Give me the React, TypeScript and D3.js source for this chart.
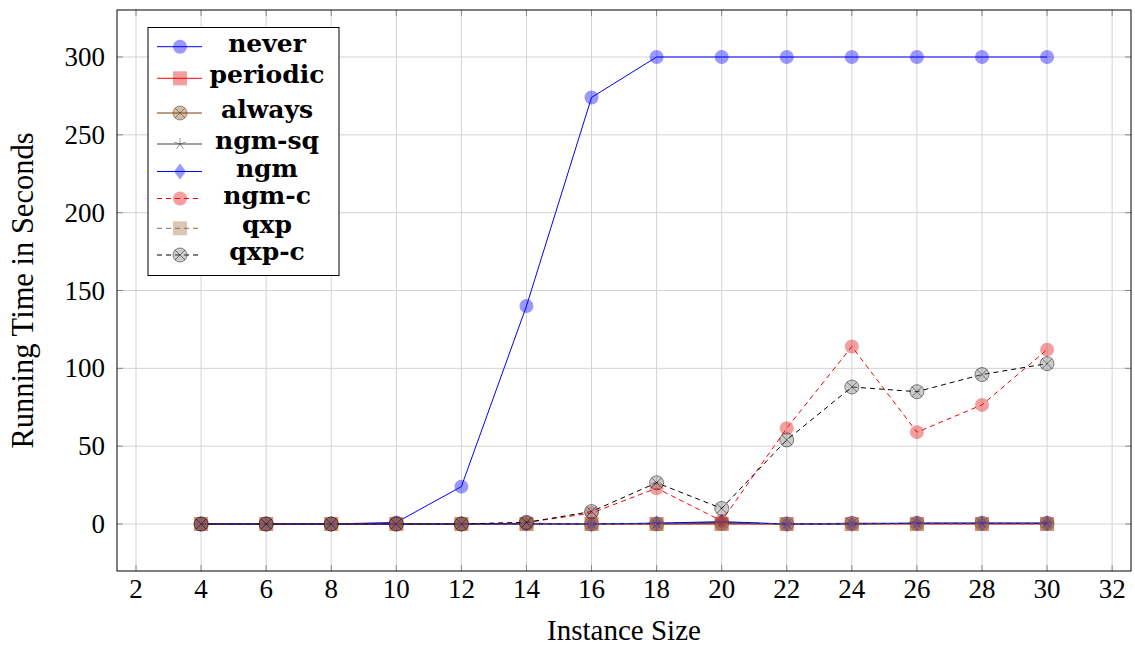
import React from "react";
import * as d3 from "d3";

const sizes = [4, 6, 8, 10, 12, 14, 16, 18, 20, 22, 24, 26, 28, 30];
const neverVals = [0, 0, 0, 1, 24, 140, 274, 300, 300, 300, 300, 300, 300, 300];
const periodicVals = [0, 0, 0, 0, 0, 0, 0, 0, 0, 0, 0, 0, 0, 0];
const alwaysVals = [0, 0, 0, 0, 0, 0.5, 0, 0, 0.5, 0, 0.5, 0.5, 0.5, 0.5];
const ngmSqVals = [0, 0, 0, 0, 0, 0, 0, 0.5, 1, 0, 0, 0.5, 0.5, 0.5];
const ngmVals = [0, 0, 0, 0, 0, 0, 0, 0.5, 1.5, 0, 0, 0.5, 0.5, 0.5];
const ngmCVals = [0, 0, 0, 0, 0, 1, 7, 23, 2, 61.5, 114, 59, 76.5, 112];
const qxpVals = [0, 0, 0, 0, 0, 0, 0, 0, 0, 0, 0, 0, 0, 0];
const qxpCVals = [0, 0, 0, 0, 0, 1, 8, 26.5, 10, 54, 88, 85, 96, 103];

const xTicks = [2, 4, 6, 8, 10, 12, 14, 16, 18, 20, 22, 24, 26, 28, 30, 32];
const yTicks = [0, 50, 100, 150, 200, 250, 300];
const xLabel = "Instance Size";
const yLabel = "Running Time in Seconds";

type Marker = "circle" | "square" | "otimes" | "star" | "diamond";
interface Series {
  name: string;
  values: number[];
  line: string;
  dash?: string;
  marker: Marker;
  fill: string;
  mstroke: string;
}

const series: Series[] = [
  { name: "never", values: neverVals, line: "#0000ff", marker: "circle", fill: "#0000ff", mstroke: "none" },
  { name: "periodic", values: periodicVals, line: "#ff0000", marker: "square", fill: "#e01010", mstroke: "none" },
  { name: "always", values: alwaysVals, line: "#7a3d00", marker: "otimes", fill: "#8a5a2a", mstroke: "#4a2a0a" },
  { name: "ngm-sq", values: ngmSqVals, line: "#404040", marker: "star", fill: "#404040", mstroke: "#404040" },
  { name: "ngm", values: ngmVals, line: "#0000ff", marker: "diamond", fill: "#0000ff", mstroke: "none" },
  { name: "ngm-c", values: ngmCVals, line: "#ff0000", dash: "5,4", marker: "circle", fill: "#e01010", mstroke: "none" },
  { name: "qxp", values: qxpVals, line: "#8c6a4a", dash: "5,4", marker: "square", fill: "#a07040", mstroke: "none" },
  { name: "qxp-c", values: qxpCVals, line: "#000000", dash: "5,4", marker: "otimes", fill: "#808080", mstroke: "#000000" },
];

const W = 1135, H = 647;
const L = 117, R = 1131, T = 10, B = 571;
const xs = d3.scaleLinear().domain([1.416, 32.58]).range([L, R]);
const ys = d3.scaleLinear().domain([-30.2, 330.2]).range([B, T]);

function MarkerShape({ s, x, y }: { s: Series; x: number; y: number }) {
  const op = 0.4;
  switch (s.marker) {
    case "circle":
      return <circle cx={x} cy={y} r={7} fill={s.fill} fillOpacity={op} />;
    case "square":
      return <rect x={x - 7} y={y - 7} width={14} height={14} fill={s.fill} fillOpacity={op} />;
    case "diamond":
      return <path d={`M${x},${y - 8}L${x + 6},${y}L${x},${y + 8}L${x - 6},${y}Z`} fill={s.fill} fillOpacity={op} />;
    case "otimes": {
      const r = 7, k = r * Math.SQRT1_2;
      return (
        <g strokeOpacity={0.45} stroke={s.mstroke} strokeWidth={1}>
          <circle cx={x} cy={y} r={r} fill={s.fill} fillOpacity={op} />
          <path d={`M${x - k},${y - k}L${x + k},${y + k}M${x - k},${y + k}L${x + k},${y - k}`} fill="none" />
        </g>
      );
    }
    case "star": {
      const r = 6;
      let d = "";
      for (let i = 0; i < 5; i++) {
        const a = -Math.PI / 2 + (i * 2 * Math.PI) / 5;
        d += `M${x},${y}L${x + r * Math.cos(a)},${y + r * Math.sin(a)}`;
      }
      return <path d={d} stroke={s.mstroke} strokeWidth={0.8} strokeOpacity={0.7} fill="none" />;
    }
  }
  return null;
}

const legendRowY = [46.7, 78.3, 113, 144, 171.5, 198.5, 228.3, 255];

export default function App() {
  const line = d3.line<[number, number]>().x((d) => xs(d[0])).y((d) => ys(d[1]));
  const tickFont = "'Liberation Serif', 'Times New Roman', serif";
  return (
    <div style={{ position: "fixed", left: 0, top: 0 }}>
      <svg width={W} height={H} style={{ display: "block", background: "#fff" }}>
        <defs>
          <clipPath id="plotclip">
            <rect x={L} y={T} width={R - L} height={B - T} />
          </clipPath>
        </defs>
        {/* grid */}
        <g stroke="#d3d3d3" strokeWidth={1}>
          {xTicks.map((t) => (
            <line key={"gx" + t} x1={xs(t)} x2={xs(t)} y1={T} y2={B} />
          ))}
          {yTicks.map((t) => (
            <line key={"gy" + t} x1={L} x2={R} y1={ys(t)} y2={ys(t)} />
          ))}
        </g>
        {/* tick marks */}
        <g stroke="#8a8a8a" strokeWidth={1}>
          {xTicks.map((t) => (
            <g key={"tx" + t}>
              <line x1={xs(t)} x2={xs(t)} y1={B} y2={B - 6} />
              <line x1={xs(t)} x2={xs(t)} y1={T} y2={T + 6} />
            </g>
          ))}
          {yTicks.map((t) => (
            <g key={"ty" + t}>
              <line x1={L} x2={L + 6} y1={ys(t)} y2={ys(t)} />
              <line x1={R} x2={R - 6} y1={ys(t)} y2={ys(t)} />
            </g>
          ))}
        </g>
        {/* series */}
        <g clipPath="url(#plotclip)">
          {series.map((s) => {
            const pts: [number, number][] = sizes.map((x, i) => [x, s.values[i]]);
            return (
              <g key={s.name}>
                <path d={line(pts) || ""} fill="none" stroke={s.line} strokeWidth={1} strokeDasharray={s.dash} />
                {pts.map((p, i) => (
                  <MarkerShape key={i} s={s} x={xs(p[0])} y={ys(p[1])} />
                ))}
              </g>
            );
          })}
        </g>
        {/* frame */}
        <rect x={L} y={T} width={R - L} height={B - T} fill="none" stroke="#000" strokeWidth={1} />
        {/* tick labels */}
        <g fontFamily={tickFont} fontSize={27} fill="#000">
          {xTicks.map((t) => (
            <text key={"lx" + t} x={xs(t)} y={598} textAnchor="middle">
              {t}
            </text>
          ))}
          {yTicks.map((t) => (
            <text key={"ly" + t} x={105} y={ys(t)} textAnchor="end" dominantBaseline="central">
              {t}
            </text>
          ))}
        </g>
        <text x={(L + R) / 2} y={640} textAnchor="middle" fontFamily={tickFont} fontSize={29}>
          {xLabel}
        </text>
        <text
          transform={`translate(33, ${(T + B) / 2}) rotate(-90)`}
          textAnchor="middle"
          fontFamily={tickFont}
          fontSize={30.5}
        >
          {yLabel}
        </text>
        {/* legend */}
        <g>
          <rect x={148} y={27.5} width={191} height={248} fill="#fff" stroke="#000" strokeWidth={1} />
          {series.map((s, i) => {
            const y = legendRowY[i];
            return (
              <g key={"lg" + s.name}>
                <line x1={157} x2={202} y1={y} y2={y} stroke={s.line} strokeWidth={1} strokeDasharray={s.dash} />
                <MarkerShape s={s} x={180} y={y} />
                <text
                  x={267}
                  y={y + 5}
                  textAnchor="middle"
                  fontFamily="'DejaVu Serif', serif"
                  fontWeight="bold"
                  fontSize={25}
                >
                  {s.name}
                </text>
              </g>
            );
          })}
        </g>
      </svg>
    </div>
  );
}
